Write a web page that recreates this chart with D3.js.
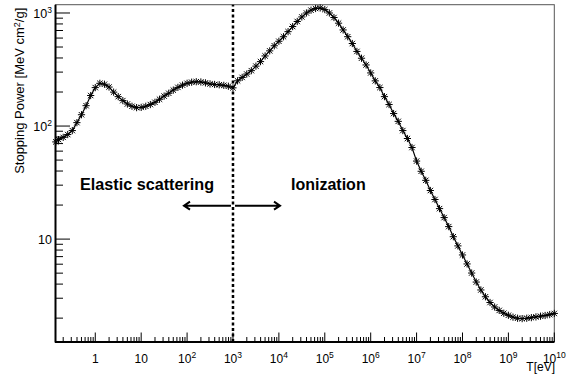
<!DOCTYPE html>
<html>
<head>
<meta charset="utf-8">
<script src="https://cdn.jsdelivr.net/npm/d3@7"></script>
<style>
  body { margin: 0; background: #fff; }
  svg { display: block; font-family: "Liberation Sans", Arial, Helvetica, sans-serif; }
</style>
</head>
<body>
<div id="chart"></div>
<script>
// kinetic energy T [eV]
const energy = [
  0.138, 0.158, 0.2, 0.251, 0.316, 0.398, 0.501, 0.631, 0.794,
  1, 1.259, 1.585, 1.995, 2.512, 3.162, 3.981, 5.012, 6.31, 7.943,
  10, 12.59, 15.85, 19.95, 25.12, 31.62, 39.81, 50.12, 63.1, 79.43,
  100, 125.9, 158.5, 199.5, 251.2, 316.2, 398.1, 501.2, 631, 794.3,
  1000, 1259, 1585, 1995, 2512, 3162, 3981, 5012, 6310, 7943,
  1e4, 1.259e4, 1.585e4, 1.995e4, 2.512e4, 3.162e4, 3.981e4, 5.012e4, 6.31e4, 7.943e4,
  1e5, 1.259e5, 1.585e5, 1.995e5, 2.512e5, 3.162e5, 3.981e5, 5.012e5, 6.31e5, 7.943e5,
  1e6, 1.259e6, 1.585e6, 1.995e6, 2.512e6, 3.162e6, 3.981e6, 5.012e6, 6.31e6, 7.943e6,
  1e7, 1.259e7, 1.585e7, 1.995e7, 2.512e7, 3.162e7, 3.981e7, 5.012e7, 6.31e7, 7.943e7,
  1e8, 1.259e8, 1.585e8, 1.995e8, 2.512e8, 3.162e8, 3.981e8, 5.012e8, 6.31e8, 7.943e8,
  1e9, 1.259e9, 1.585e9, 1.995e9, 2.512e9, 3.162e9, 3.981e9, 5.012e9, 6.31e9, 7.943e9,
  1e10
];

// stopping power [MeV cm2/g]
const stoppingPower = [
  72.4, 75.9, 79.4, 84.1, 91.2, 107.2, 125.9, 151.4, 186.2,
  218.8, 238.8, 234.4, 221.3, 199.5, 182.0, 167.9, 156.7, 149.6, 145.5,
  146.2, 149.6, 154.9, 162.2, 172.6, 184.1, 195.0, 208.0, 219.8, 230.1,
  238.8, 244.3, 246.6, 245.5, 241.0, 236.0, 233.3, 231.7, 229.1, 224.9,
  217.8, 251.2, 269.2, 288.4, 309.0, 338.8, 371.5, 416.9, 462.4, 512.9,
  562.3, 616.6, 684.0, 758.6, 841.4, 922.6, 1000, 1059, 1096, 1109,
  1072, 1000, 912, 813, 708, 617, 537, 457, 398, 347,
  295, 251, 219, 182, 155, 129, 110, 91.2, 77.6, 64.6,
  49.0, 39.8, 33.1, 26.9, 22.4, 18.6, 15.5, 12.9, 10.5, 8.71,
  7.24, 6.03, 5.01, 4.17, 3.55, 3.09, 2.75, 2.51, 2.34, 2.21,
  2.12, 2.04, 1.995, 1.98, 1.995, 2.02, 2.05, 2.08, 2.11, 2.15,
  2.20
];

const xMajorTicks = [1, 10, 1e2, 1e3, 1e4, 1e5, 1e6, 1e7, 1e8, 1e9, 1e10];
const xTickExp = [null, null, "2", "3", "4", "5", "6", "7", "8", "9", "10"];
const yMajorTicks = [10, 1e2, 1e3];
const yTickExp = [null, "2", "3"];

const boundary = 1e3;

const W = 566, H = 378;
const frame = { left: 55.5, right: 554.3, top: 4.7, bottom: 342 };

const svg = d3.select("#chart").append("svg")
  .attr("width", W).attr("height", H);

const x = d3.scaleLog().domain([0.136, 1e10]).range([frame.left, frame.right]);
const y = d3.scaleLog().domain([1.23, 1184]).range([frame.bottom, frame.top]);

// frame
svg.append("rect")
  .attr("x", frame.left).attr("y", frame.top)
  .attr("width", frame.right - frame.left).attr("height", frame.bottom - frame.top)
  .attr("fill", "none").attr("stroke", "#555").attr("stroke-width", 1);

// minor ticks
const xMinor = [];
for (let e = -1; e < 10; e++) {
  for (let m = 2; m <= 9; m++) {
    const v = m * Math.pow(10, e);
    if (v > 0.136 && v < 1e10) xMinor.push(v);
  }
}
const yMinor = [];
for (let e = 0; e < 4; e++) {
  for (let m = 2; m <= 9; m++) {
    const v = m * Math.pow(10, e);
    if (v > 1.23 && v < 1184) yMinor.push(v);
  }
}

svg.append("g").selectAll("line")
  .data(xMinor).join("line")
  .attr("x1", d => x(d)).attr("x2", d => x(d))
  .attr("y1", frame.bottom).attr("y2", frame.bottom - 5)
  .attr("stroke", "#000").attr("stroke-width", 1);

svg.append("g").selectAll("line")
  .data(xMajorTicks).join("line")
  .attr("x1", d => x(d)).attr("x2", d => x(d))
  .attr("y1", frame.bottom).attr("y2", frame.bottom - 9.5)
  .attr("stroke", "#000").attr("stroke-width", 1);

svg.append("g").selectAll("line")
  .data(yMinor).join("line")
  .attr("x1", frame.left).attr("x2", frame.left + 7.5)
  .attr("y1", d => y(d)).attr("y2", d => y(d))
  .attr("stroke", "#000").attr("stroke-width", 1);

svg.append("g").selectAll("line")
  .data(yMajorTicks).join("line")
  .attr("x1", frame.left).attr("x2", frame.left + 14.5)
  .attr("y1", d => y(d)).attr("y2", d => y(d))
  .attr("stroke", "#000").attr("stroke-width", 1);

// axis lines
svg.append("line")
  .attr("x1", frame.left).attr("x2", frame.left).attr("y1", frame.top).attr("y2", frame.bottom + 0.5)
  .attr("stroke", "#000").attr("stroke-width", 2);
svg.append("line")
  .attr("x1", frame.left - 0.5).attr("x2", frame.right).attr("y1", frame.bottom).attr("y2", frame.bottom)
  .attr("stroke", "#000").attr("stroke-width", 2);

// x tick labels
const xl = svg.append("g").attr("font-size", 12).attr("fill", "#000");
xMajorTicks.forEach((v, i) => {
  const t = xl.append("text")
    .attr("x", x(v)).attr("y", 363)
    .attr("text-anchor", "middle");
  t.append("tspan").text(xTickExp[i] ? "10" : String(v));
  if (xTickExp[i]) {
    t.append("tspan").attr("font-size", 8.5).attr("dy", -5).text(xTickExp[i]);
  }
});

// y tick labels
const yl = svg.append("g").attr("font-size", 12.5).attr("fill", "#000");
yMajorTicks.forEach((v, i) => {
  const t = yl.append("text")
    .attr("x", 52).attr("y", y(v) + 5)
    .attr("text-anchor", "end");
  t.append("tspan").text(yTickExp[i] ? "10" : String(v));
  if (yTickExp[i]) {
    t.append("tspan").attr("font-size", 8.5).attr("dy", -5).text(yTickExp[i]);
  }
});

// axis titles
svg.append("text")
  .attr("x", 555).attr("y", 371)
  .attr("text-anchor", "end").attr("font-size", 12)
  .text("T[eV]");

const yt = svg.append("text")
  .attr("transform", `translate(24,${frame.top + 3}) rotate(-90)`)
  .attr("text-anchor", "end").attr("font-size", 13);
yt.append("tspan").text("Stopping Power [MeV cm");
yt.append("tspan").attr("font-size", 9).attr("dy", -4.5).text("2");
yt.append("tspan").attr("dy", 4.5).text("/g]");

// curve + asterisk markers
const pts = energy.map((e, i) => ({ e, s: stoppingPower[i] }));

svg.append("path")
  .datum(pts)
  .attr("fill", "none").attr("stroke", "#000").attr("stroke-width", 1.2)
  .attr("d", d3.line().x(d => x(d.e)).y(d => y(d.s)));

const r = 3.6, rd = 2.7;
const star = `M${-r},0L${r},0M0,${-r}L0,${r}M${-rd},${-rd}L${rd},${rd}M${-rd},${rd}L${rd},${-rd}`;
svg.append("g").selectAll("path")
  .data(pts).join("path")
  .attr("transform", d => `translate(${x(d.e)},${y(d.s)})`)
  .attr("d", star)
  .attr("fill", "none").attr("stroke", "#000").attr("stroke-width", 1);

// boundary at 1 keV
svg.append("line")
  .attr("x1", x(boundary)).attr("x2", x(boundary))
  .attr("y1", frame.bottom).attr("y2", frame.top)
  .attr("stroke", "#000").attr("stroke-width", 2.5)
  .attr("stroke-dasharray", "3,2.5");

// annotations
svg.append("text")
  .attr("x", 80).attr("y", 190)
  .attr("font-size", 16.2).attr("font-weight", "bold")
  .text("Elastic scattering");
svg.append("text")
  .attr("x", 291).attr("y", 190)
  .attr("font-size", 16).attr("font-weight", "bold")
  .text("Ionization");

const ay = 205.7;
const arrows = svg.append("g")
  .attr("fill", "none").attr("stroke", "#000").attr("stroke-width", 2);
arrows.append("path").attr("d", `M${x(boundary) - 2},${ay}H184M190,${ay - 4}L184,${ay}L190,${ay + 4}`);
arrows.append("path").attr("d", `M${x(boundary) + 2},${ay}H280M274,${ay - 4}L280,${ay}L274,${ay + 4}`);
</script>
</body>
</html>
